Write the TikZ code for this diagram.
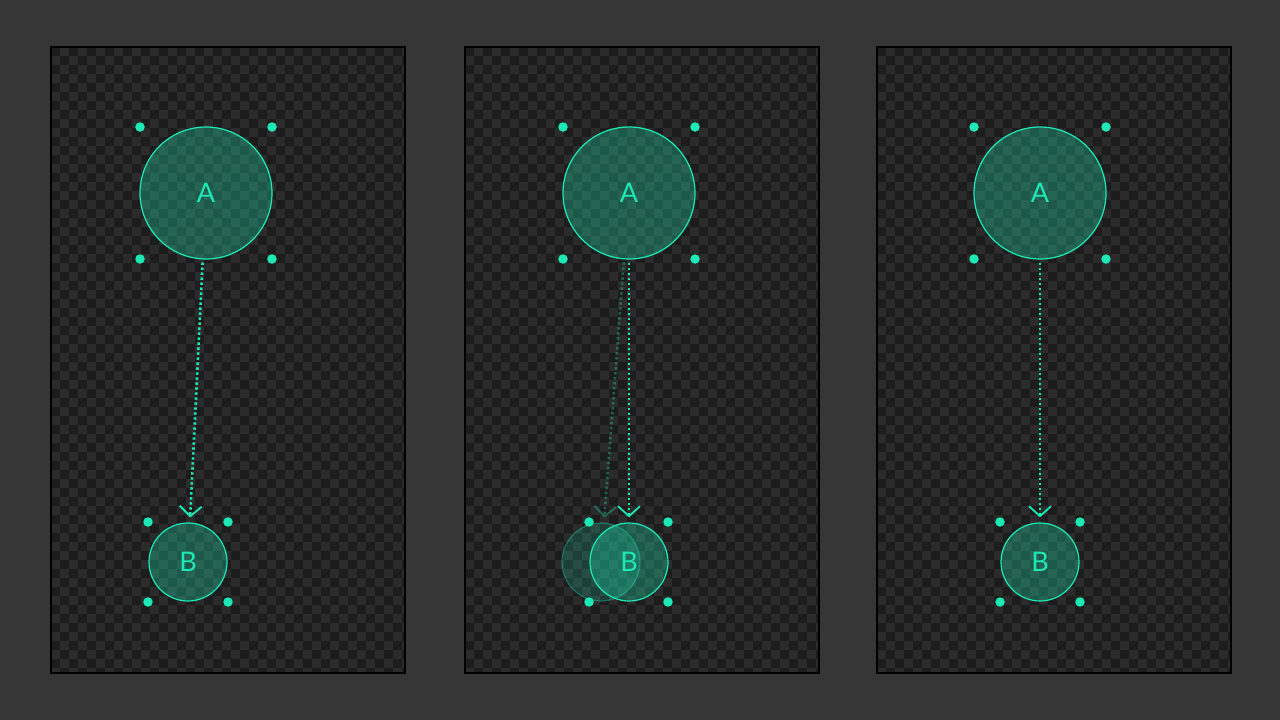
\documentclass[tikz,border=0pt]{standalone}
\usepackage{fontspec}
\setmainfont{Lato}
\usetikzlibrary{arrows.meta}
\definecolor{bgc}{HTML}{363636}
\definecolor{chklight}{HTML}{2B2B2B}
\definecolor{chkdark}{HTML}{1C1C1C}
\definecolor{teal}{HTML}{1DE9B6}
\tikzset{
  circ/.style={circle, draw=teal, line width=1.2pt, fill=teal, fill opacity=0.3, draw opacity=1, text opacity=1, text=teal, font=\fontsize{27}{27}\selectfont, inner sep=0pt},
  bigc/.style={circ, minimum size=132pt},
  smallc/.style={circ, minimum size=78pt},
  ghostc/.style={fill opacity=0.18, draw opacity=0.35},
  hdl/.style={circle, fill=teal, minimum size=9.5pt, inner sep=0pt},
  conn/.style={draw=teal, line width=2.6pt, dash pattern=on 2.4pt off 2.6pt, shorten <=3pt, shorten >=5pt, -{Straight Barb[length=10pt,width=22pt,line width=1.8pt]}},
  ghost/.style={opacity=0.35},
}
\begin{document}
\begin{tikzpicture}[x=1pt,y=-1pt]
\useasboundingbox (0,0) rectangle (1280,720);
\fill[bgc] (0,0) rectangle (1280,720);
\foreach \panx in {51,465,877}{
  \begin{scope}[shift={(\panx,47)}]
    \fill[chklight] (0,0) rectangle (354,626);
    \clip (0,0) rectangle (354,626);
    \foreach \i in {0,...,39}{
      \pgfmathsetmacro{\cx}{\i*9}
      \pgfmathsetmacro{\oy}{mod(\i,2)*9}
      \foreach \j in {0,18,...,630}{
        \fill[chkdark] (\cx,\j+\oy) rectangle ++(9,9);
      }
    }
  \end{scope}
  \draw[black, line width=1.5pt] (\panx,47) rectangle ++(354,626);
}
% left panel
\node[bigc] (A1) at (206,193) {A};
\node[smallc] (B1) at (188,562) {B};
\foreach \x/\y [count=\k] in {140/127,272/127,140/259,272/259,148/522,228/522,148/602,228/602}
  \node[hdl] (h1\k) at (\x,\y) {};
\draw[conn] (A1) -- (B1);
% middle panel
\node[bigc] (A2) at (629,193) {A};
\node[smallc, ghostc] (B2g) at (601,562) {};
\node[smallc] (B2) at (629,562) {B};
\foreach \x/\y [count=\k] in {563/127,695/127,563/259,695/259,589/522,668/522,589/602,668/602}
  \node[hdl] (h2\k) at (\x,\y) {};
\draw[conn, ghost] (A2) -- (B2g);
\draw[conn] (A2) -- (B2);
% right panel
\node[bigc] (A3) at (1040,193) {A};
\node[smallc] (B3) at (1040,562) {B};
\foreach \x/\y [count=\k] in {974/127,1106/127,974/259,1106/259,1000/522,1080/522,1000/602,1080/602}
  \node[hdl] (h3\k) at (\x,\y) {};
\draw[conn] (A3) -- (B3);
\end{tikzpicture}
\end{document}
